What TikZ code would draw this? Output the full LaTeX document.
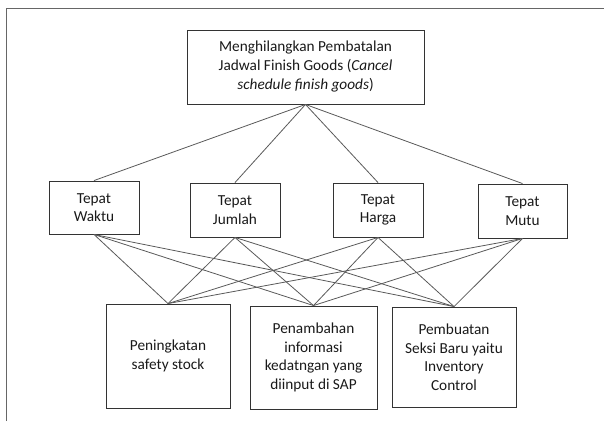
\documentclass[tikz,border=0pt]{standalone}
\usepackage{fontspec}
\setmainfont{Carlito}
\begin{document}
\begin{tikzpicture}[x=1pt,y=-1pt,
  box/.style={draw=black!80, line width=0.9pt, inner sep=0pt, align=center, text=black!90,
    font=\fontsize{15.3}{18.5}\selectfont},
  conn/.style={draw=black!65, line width=0.8pt}]
\useasboundingbox (0,0) rectangle (604,421);
\draw[draw=black!60, line width=1pt] (6,421) -- (6,8) -- (604,8);
\node[box, minimum width=237pt, minimum height=74pt] (top) at (305.5,67) {\raisebox{-3pt}{\begin{tabular}{@{}c@{}}Menghilangkan Pembatalan\\[0.5pt]Jadwal Finish Goods (\textit{Cancel}\\[0.5pt]\textit{schedule finish goods})\end{tabular}}};
\node[box, minimum width=90pt, minimum height=53pt] (w) at (94,207.5) {Tepat\\Waktu};
\node[box, minimum width=90pt, minimum height=54pt] (j) at (235,210) {Tepat\\Jumlah};
\node[box, minimum width=90pt, minimum height=54pt] (h) at (378,210) {Tepat\\Harga};
\node[box, minimum width=89pt, minimum height=54pt] (m) at (522.5,211) {Tepat\\Mutu};
\node[box, minimum width=124pt, minimum height=104pt] (a) at (168,356) {Peningkatan\\safety stock};
\node[box, minimum width=127pt, minimum height=103pt] (b) at (313.5,357.5) {Penambahan\\informasi\\kedatngan yang\\diinput di SAP};
\node[box, minimum width=124pt, minimum height=100pt] (c) at (454,357) {Pembuatan\\Seksi Baru yaitu\\Inventory\\Control};
\foreach \t in {w,j,h,m} {
  \draw[conn] (top.south) -- (\t.north);
  \foreach \s in {a,b,c} { \draw[conn] (\t.south) -- (\s.north); }
}
\end{tikzpicture}
\end{document}
